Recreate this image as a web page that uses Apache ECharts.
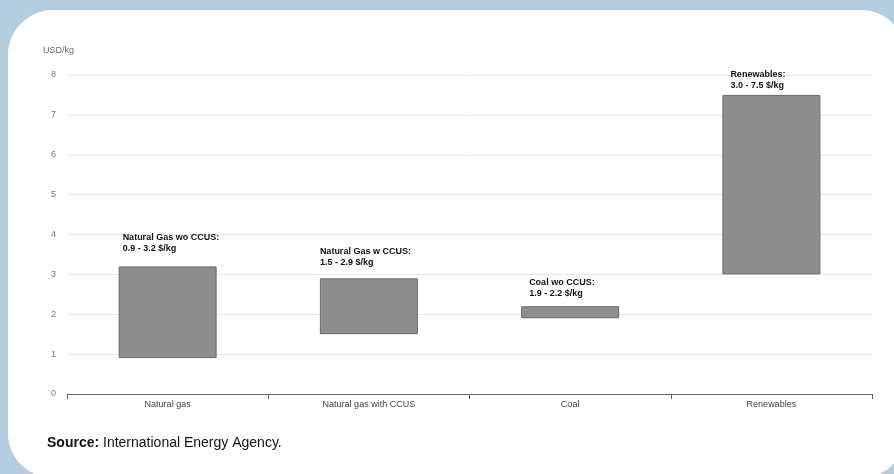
<!DOCTYPE html>
<html>
<head>
<meta charset="utf-8">
<script src="https://cdn.jsdelivr.net/npm/echarts@6/dist/echarts.min.js"></script>
<style>
  html, body { margin: 0; padding: 0; background: #b4cddf; }
  #chart { width: 894px; height: 474px; }
</style>
</head>
<body>
<div id="chart"></div>
<script>
// Hydrogen production cost ranges by source (USD per kg)
const categories = ['Natural gas', 'Natural gas with CCUS', 'Coal', 'Renewables'];
const rangeNames = ['Natural Gas wo CCUS', 'Natural Gas w CCUS', 'Coal wo CCUS', 'Renewables'];
const lowCost = [0.9, 1.5, 1.9, 3.0];
const highCost = [3.2, 2.9, 2.2, 7.5];
const yTicks = [0, 1, 2, 3, 4, 5, 6, 7, 8];

// label placement relative to each bar's top-left corner
const labelOffsets = [[4, -34], [0, -32], [8, -29], [8, -26]];

const chart = echarts.init(document.getElementById('chart'), null, { renderer: 'canvas' });

const font = '"Liberation Sans", Arial, Helvetica, sans-serif';

chart.setOption({
  animation: false,
  backgroundColor: '#b4cddf',
  textStyle: { fontFamily: font },
  graphic: [
    {
      type: 'rect',
      z: -100,
      silent: true,
      shape: { x: 8, y: 10, width: 898, height: 468, r: 45 },
      style: { fill: '#ffffff' }
    },
    {
      type: 'text',
      left: 43,
      top: 46,
      style: { text: 'USD/kg', fill: '#6e6e6e', font: '9px ' + font }
    },
    {
      type: 'text',
      left: 47,
      top: 436,
      style: {
        text: '{b|Source:} International Energy Agency.',
        fill: '#111',
        font: '14px ' + font,
        rich: { b: { fontWeight: 'bold', fontSize: 14, fill: '#111', fontFamily: font } }
      }
    }
  ],
  grid: { left: 67, right: 22, top: 75, bottom: 80 },
  xAxis: {
    type: 'category',
    data: categories,
    axisLine: { lineStyle: { color: '#666', width: 1 } },
    axisTick: { show: true, length: 5, lineStyle: { color: '#666' } },
    axisLabel: { color: '#444', fontSize: 9, margin: 6 },
    splitLine: { show: false }
  },
  yAxis: {
    type: 'value',
    min: yTicks[0],
    max: yTicks[yTicks.length - 1],
    interval: 1,
    axisLine: { show: false },
    axisTick: { show: false },
    axisLabel: { color: '#777', fontSize: 9, margin: 11 },
    splitLine: { lineStyle: { color: '#e6e6e6', width: 1 } }
  },
  series: [
    {
      name: 'base',
      type: 'bar',
      stack: 'cost',
      barWidth: 98,
      silent: true,
      itemStyle: { color: 'transparent' },
      data: lowCost
    },
    {
      name: 'range',
      type: 'bar',
      stack: 'cost',
      barWidth: 98,
      itemStyle: { color: '#8e8e8e', borderColor: '#6a6a6a', borderWidth: 1 },
      label: {
        show: true,
        align: 'left',
        verticalAlign: 'top',
        color: '#111',
        fontSize: 9,
        fontWeight: 'bold',
        lineHeight: 11,
        formatter: p => rangeNames[p.dataIndex] + ':\n' +
          lowCost[p.dataIndex].toFixed(1) + ' - ' + highCost[p.dataIndex].toFixed(1) + ' $/kg'
      },
      data: highCost.map((h, i) => ({
        value: +(h - lowCost[i]).toFixed(2),
        label: { position: labelOffsets[i] }
      }))
    }
  ]
});
</script>
</body>
</html>
